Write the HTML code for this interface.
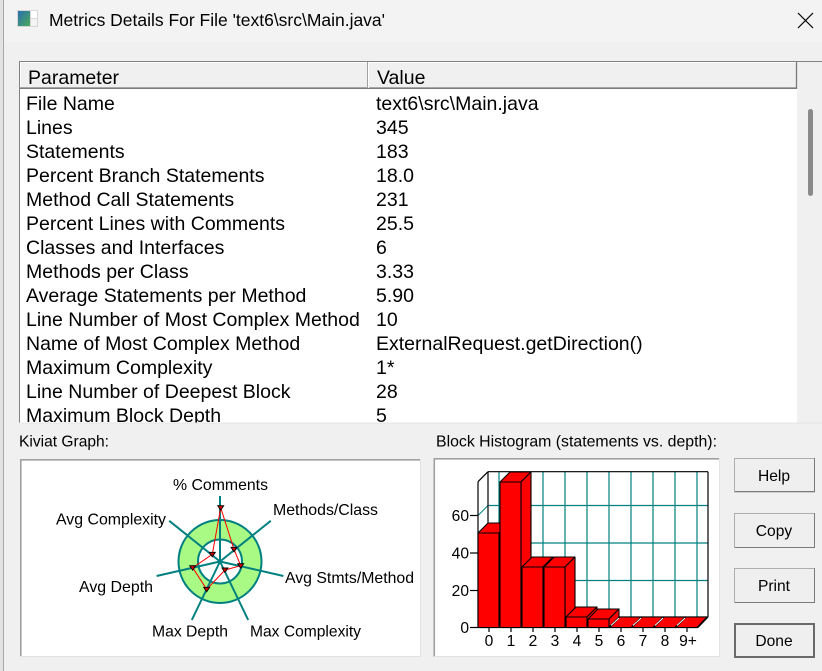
<!DOCTYPE html>
<html><head><meta charset="utf-8"><style>
html,body{margin:0;padding:0;background:#f0f0f0;}
svg{display:block;font-family:"Liberation Sans",Arial,sans-serif;}
</style></head><body>
<svg width="822" height="671" viewBox="0 0 822 671" xmlns="http://www.w3.org/2000/svg">
<defs>
<linearGradient id="ig" x1="0" y1="0" x2="1" y2="1"><stop offset="0" stop-color="#2a6fb0"/><stop offset="1" stop-color="#4caa5a"/></linearGradient>
<clipPath id="tb"><rect x="20" y="89" width="777" height="333.5"/></clipPath>
</defs>
<rect x="0" y="0" width="822" height="671" fill="#f0f0f0"/>
<!-- title bar -->
<rect x="0" y="0" width="822" height="43" fill="#f3f3f3"/>
<rect x="0" y="0" width="3" height="671" fill="#e2e2e2"/>
<line x1="3.5" y1="0" x2="3.5" y2="671" stroke="#a8a8a8" stroke-width="1"/>
<rect x="17" y="10" width="21" height="17" fill="#d6d6d6"/>
<rect x="18" y="11" width="12" height="15" fill="url(#ig)"/>
<rect x="31" y="11" width="6" height="7" fill="#ffffff"/>
<rect x="31" y="19" width="6" height="7" fill="#f4f4f4"/>
<text x="49" y="26" font-size="17.5" fill="#000" textLength="336" lengthAdjust="spacingAndGlyphs">Metrics Details For File 'text6\src\Main.java'</text>
<line x1="798" y1="13" x2="813" y2="28" stroke="#000" stroke-width="1.2"/>
<line x1="813" y1="13" x2="798" y2="28" stroke="#000" stroke-width="1.2"/>

<!-- table -->
<rect x="20" y="62" width="777" height="361" fill="#ffffff"/>
<rect x="797" y="62" width="25" height="361" fill="#f0f0f0"/>
<rect x="808" y="109" width="5" height="87" rx="2.5" fill="#8a8a8a"/>
<line x1="19" y1="61.5" x2="822" y2="61.5" stroke="#828282"/>
<line x1="19.5" y1="61" x2="19.5" y2="423" stroke="#828282"/>
<line x1="19" y1="423" x2="822" y2="423" stroke="#e4e4e4"/>
<!-- header -->
<rect x="20" y="62" width="777" height="27" fill="#f0f0f0"/>
<line x1="20.5" y1="62.5" x2="20.5" y2="88" stroke="#ffffff"/>
<line x1="20" y1="62.5" x2="796" y2="62.5" stroke="#ffffff"/>
<line x1="20" y1="88.2" x2="797" y2="88.2" stroke="#7a7a7a" stroke-width="1.6"/>
<line x1="367.5" y1="62" x2="367.5" y2="88" stroke="#a0a0a0"/>
<line x1="368.5" y1="62" x2="368.5" y2="88" stroke="#ffffff"/>
<line x1="796.5" y1="62" x2="796.5" y2="89" stroke="#7a7a7a" stroke-width="1.3"/>
<text x="28" y="84" font-size="19.5">Parameter</text>
<text x="377" y="84" font-size="19.5">Value</text>
<g clip-path="url(#tb)" font-size="19.5" fill="#000">
<text x="26" y="110">File Name</text><text x="376" y="110">text6\src\Main.java</text>
<text x="26" y="134">Lines</text><text x="376" y="134">345</text>
<text x="26" y="158">Statements</text><text x="376" y="158">183</text>
<text x="26" y="182">Percent Branch Statements</text><text x="376" y="182">18.0</text>
<text x="26" y="206">Method Call Statements</text><text x="376" y="206">231</text>
<text x="26" y="230">Percent Lines with Comments</text><text x="376" y="230">25.5</text>
<text x="26" y="254">Classes and Interfaces</text><text x="376" y="254">6</text>
<text x="26" y="278">Methods per Class</text><text x="376" y="278">3.33</text>
<text x="26" y="302">Average Statements per Method</text><text x="376" y="302">5.90</text>
<text x="26" y="326">Line Number of Most Complex Method</text><text x="376" y="326">10</text>
<text x="26" y="350">Name of Most Complex Method</text><text x="376" y="350">ExternalRequest.getDirection()</text>
<text x="26" y="374">Maximum Complexity</text><text x="376" y="374">1*</text>
<text x="26" y="398">Line Number of Deepest Block</text><text x="376" y="398">28</text>
<text x="26" y="422">Maximum Block Depth</text><text x="376" y="422">5</text>
</g>

<!-- section labels -->
<text x="19" y="446.5" font-size="15.6" textLength="90" lengthAdjust="spacingAndGlyphs">Kiviat Graph:</text>
<text x="436" y="446.5" font-size="15.6" textLength="281" lengthAdjust="spacingAndGlyphs">Block Histogram (statements vs. depth):</text>

<!-- kiviat box -->
<rect x="20" y="459" width="401" height="198" fill="#ffffff"/>
<line x1="20" y1="459.8" x2="421" y2="459.8" stroke="#a0a0a0" stroke-width="1.6"/>
<line x1="20.8" y1="459" x2="20.8" y2="657" stroke="#a0a0a0" stroke-width="1.6"/>
<line x1="20" y1="656.5" x2="421" y2="656.5" stroke="#e3e3e3"/>
<line x1="420.5" y1="459" x2="420.5" y2="657" stroke="#e3e3e3"/>

<path d="M178.5,561.5 a41.5,41.5 0 1,0 83,0 a41.5,41.5 0 1,0 -83,0 Z M198,561.5 a22,22 0 1,0 44,0 a22,22 0 1,0 -44,0 Z" fill="#a8fa84" fill-rule="evenodd"/>
<circle cx="220" cy="561.5" r="41.5" fill="none" stroke="#008080" stroke-width="2"/>
<circle cx="220" cy="561.5" r="22" fill="none" stroke="#008080" stroke-width="2"/>
<g stroke="#008080" stroke-width="2">
<line x1="220" y1="561.5" x2="220" y2="496"/>
<line x1="220" y1="561.5" x2="270.8" y2="520.8"/>
<line x1="220" y1="561.5" x2="283.4" y2="576"/>
<line x1="220" y1="561.5" x2="248.2" y2="620"/>
<line x1="220" y1="561.5" x2="191.8" y2="620"/>
<line x1="220" y1="561.5" x2="156.6" y2="576"/>
<line x1="220" y1="561.5" x2="169.2" y2="520.8"/>
</g>
<polygon points="220.7,507.7 234,549.3 240.7,565.7 225,570 206.7,589.3 192.7,567.7 212.3,554.3" fill="none" stroke="#ff0000" stroke-width="1"/>
<g fill="#d00000" stroke="#000" stroke-width="0.9">
<path d="M217.7,505.7 h6 l-3,4.5 z"/>
<path d="M231,547.3 h6 l-3,4.5 z"/>
<path d="M237.7,563.7 h6 l-3,4.5 z"/>
<path d="M222,568 h6 l-3,4.5 z"/>
<path d="M203.7,587.3 h6 l-3,4.5 z"/>
<path d="M189.7,565.7 h6 l-3,4.5 z"/>
<path d="M209.3,552.3 h6 l-3,4.5 z"/>
</g>
<g font-size="15.7" fill="#000">
<text x="173" y="490" textLength="95" lengthAdjust="spacingAndGlyphs">% Comments</text>
<text x="273" y="515" textLength="105" lengthAdjust="spacingAndGlyphs">Methods/Class</text>
<text x="56" y="524.5" textLength="110" lengthAdjust="spacingAndGlyphs">Avg Complexity</text>
<text x="285" y="583" textLength="129" lengthAdjust="spacingAndGlyphs">Avg Stmts/Method</text>
<text x="79" y="592" textLength="74" lengthAdjust="spacingAndGlyphs">Avg Depth</text>
<text x="152" y="636.7" textLength="76" lengthAdjust="spacingAndGlyphs">Max Depth</text>
<text x="250" y="636.7" textLength="111" lengthAdjust="spacingAndGlyphs">Max Complexity</text>
</g>

<!-- histogram box -->
<rect x="434" y="458" width="286" height="199" fill="#ffffff"/>
<line x1="434" y1="458.8" x2="720" y2="458.8" stroke="#a0a0a0" stroke-width="1.6"/>
<line x1="434.3" y1="458" x2="434.3" y2="657" stroke="#a0a0a0" stroke-width="1.6"/>
<line x1="434" y1="656.5" x2="720" y2="656.5" stroke="#e3e3e3"/>
<line x1="719.5" y1="458" x2="719.5" y2="657" stroke="#e3e3e3"/>

<!-- grid: back plane -->
<g stroke="#008080" stroke-width="1.2">
<line x1="488" y1="505.5" x2="708" y2="505.5"/>
<line x1="488" y1="543" x2="708" y2="543"/>
<line x1="488" y1="580.5" x2="708" y2="580.5"/>
<line x1="499" y1="472" x2="499" y2="617"/>
<line x1="521" y1="472" x2="521" y2="617"/>
<line x1="543" y1="472" x2="543" y2="617"/>
<line x1="565" y1="472" x2="565" y2="617"/>
<line x1="587" y1="472" x2="587" y2="617"/>
<line x1="609" y1="472" x2="609" y2="617"/>
<line x1="631" y1="472" x2="631" y2="617"/>
<line x1="653" y1="472" x2="653" y2="617"/>
<line x1="675" y1="472" x2="675" y2="617"/>
<line x1="697" y1="472" x2="697" y2="617"/>
<line x1="478" y1="515.5" x2="488" y2="505.5" stroke-width="1"/>
<line x1="478" y1="553" x2="488" y2="543" stroke-width="1"/>
<line x1="478" y1="590.5" x2="488" y2="580.5" stroke-width="1"/>
</g>
<g stroke="#000" stroke-width="1.2" fill="none">
<line x1="488" y1="471.7" x2="708" y2="471.7"/>
<line x1="708" y1="471.7" x2="708" y2="617"/>
<line x1="488" y1="471.7" x2="488" y2="617"/>
<line x1="478" y1="481.7" x2="488" y2="471.7"/>
<line x1="478" y1="481.7" x2="478" y2="627.5"/>
<line x1="488" y1="617" x2="708" y2="617"/>
<line x1="478" y1="627.5" x2="698" y2="627.5"/>
<line x1="698" y1="627.5" x2="708" y2="617"/>
<!-- y ticks -->
<line x1="470" y1="627.5" x2="478" y2="627.5"/>
<line x1="470" y1="590.5" x2="478" y2="590.5"/>
<line x1="470" y1="553" x2="478" y2="553"/>
<line x1="470" y1="515.5" x2="478" y2="515.5"/>
<!-- x ticks -->
<line x1="489" y1="627" x2="489" y2="632"/>
<line x1="511" y1="627" x2="511" y2="632"/>
<line x1="533" y1="627" x2="533" y2="632"/>
<line x1="555" y1="627" x2="555" y2="632"/>
<line x1="577" y1="627" x2="577" y2="632"/>
<line x1="599" y1="627" x2="599" y2="632"/>
<line x1="621" y1="627" x2="621" y2="632"/>
<line x1="643" y1="627" x2="643" y2="632"/>
<line x1="665" y1="627" x2="665" y2="632"/>
<line x1="687" y1="627" x2="687" y2="632"/>
</g>

<!-- bars -->
<g fill="#ff0000" stroke="#000" stroke-width="1.1" stroke-linejoin="round">
<!-- bar0 top 533 -->
<polygon points="478,533 499,533 509,523 488,523"/>
<polygon points="499,533 509,523 509,617 499,627"/>
<rect x="478" y="533" width="21" height="94.5"/>
<!-- bar1 top 482 -->
<polygon points="500,482 521,482 531,472 510,472"/>
<polygon points="521,482 531,472 531,617 521,627"/>
<rect x="500" y="482" width="21" height="145.5"/>
<!-- bar2 top 567 -->
<polygon points="522,567 543,567 553,557 532,557"/>
<polygon points="543,567 553,557 553,617 543,627"/>
<rect x="522" y="567" width="21" height="60.5"/>
<!-- bar3 -->
<polygon points="544,567 565,567 575,557 554,557"/>
<polygon points="565,567 575,557 575,617 565,627"/>
<rect x="544" y="567" width="21" height="60.5"/>
<!-- bar4 top 617 -->
<polygon points="566,617 587,617 597,607 576,607"/>
<polygon points="587,617 597,607 597,617 587,627"/>
<rect x="566" y="617" width="21" height="10.5"/>
<!-- bar5 top 619 -->
<polygon points="588,619 609,619 619,609 598,609"/>
<polygon points="609,619 619,609 619,617 609,627"/>
<rect x="588" y="619" width="21" height="8.5"/>
<!-- flat bars 6-9 -->
<polygon points="610,627.5 631,627.5 641,617 620,617"/>
<polygon points="632,627.5 653,627.5 663,617 642,617"/>
<polygon points="654,627.5 675,627.5 685,617 664,617"/>
<polygon points="676,627.5 697,627.5 707,617 686,617"/>
</g>
<g stroke="#ffffff" stroke-width="1">
<line x1="633" y1="625.5" x2="641" y2="618"/>
<line x1="655" y1="625.5" x2="663" y2="618"/>
<line x1="677" y1="625.5" x2="685" y2="618"/>
<line x1="611" y1="625.5" x2="619" y2="618"/>
</g>
<g font-size="15.6" fill="#000" text-anchor="end">
<text x="469" y="633">0</text>
<text x="469" y="596">20</text>
<text x="469" y="558.5">40</text>
<text x="469" y="521">60</text>
</g>
<g font-size="15.6" fill="#000" text-anchor="middle">
<text x="489" y="646">0</text>
<text x="511" y="646">1</text>
<text x="533" y="646">2</text>
<text x="555" y="646">3</text>
<text x="577" y="646">4</text>
<text x="599" y="646">5</text>
<text x="621" y="646">6</text>
<text x="643" y="646">7</text>
<text x="665" y="646">8</text>
<text x="688" y="646">9+</text>
</g>

<!-- buttons -->
<g>
<rect x="734.5" y="458.5" width="80" height="33.5" fill="#efefef" stroke="#adadad"/>
<line x1="735" y1="491.5" x2="815" y2="491.5" stroke="#7a7a7a"/>
<line x1="814.5" y1="458" x2="814.5" y2="492" stroke="#7a7a7a"/>
<rect x="734.5" y="513.5" width="80" height="34" fill="#efefef" stroke="#adadad"/>
<line x1="735" y1="547.5" x2="815" y2="547.5" stroke="#7a7a7a"/>
<line x1="814.5" y1="513" x2="814.5" y2="548" stroke="#7a7a7a"/>
<rect x="734.5" y="568.5" width="80" height="34" fill="#efefef" stroke="#adadad"/>
<line x1="735" y1="602.5" x2="815" y2="602.5" stroke="#7a7a7a"/>
<line x1="814.5" y1="568" x2="814.5" y2="603" stroke="#7a7a7a"/>
<rect x="735" y="624" width="79" height="33" fill="#efefef" stroke="#6a6a6a" stroke-width="2"/>
</g>
<g font-size="15.6" fill="#000" text-anchor="middle">
<text x="774" y="481">Help</text>
<text x="774" y="536">Copy</text>
<text x="774" y="591">Print</text>
<text x="774" y="646">Done</text>
</g>
</svg>
</body></html>
